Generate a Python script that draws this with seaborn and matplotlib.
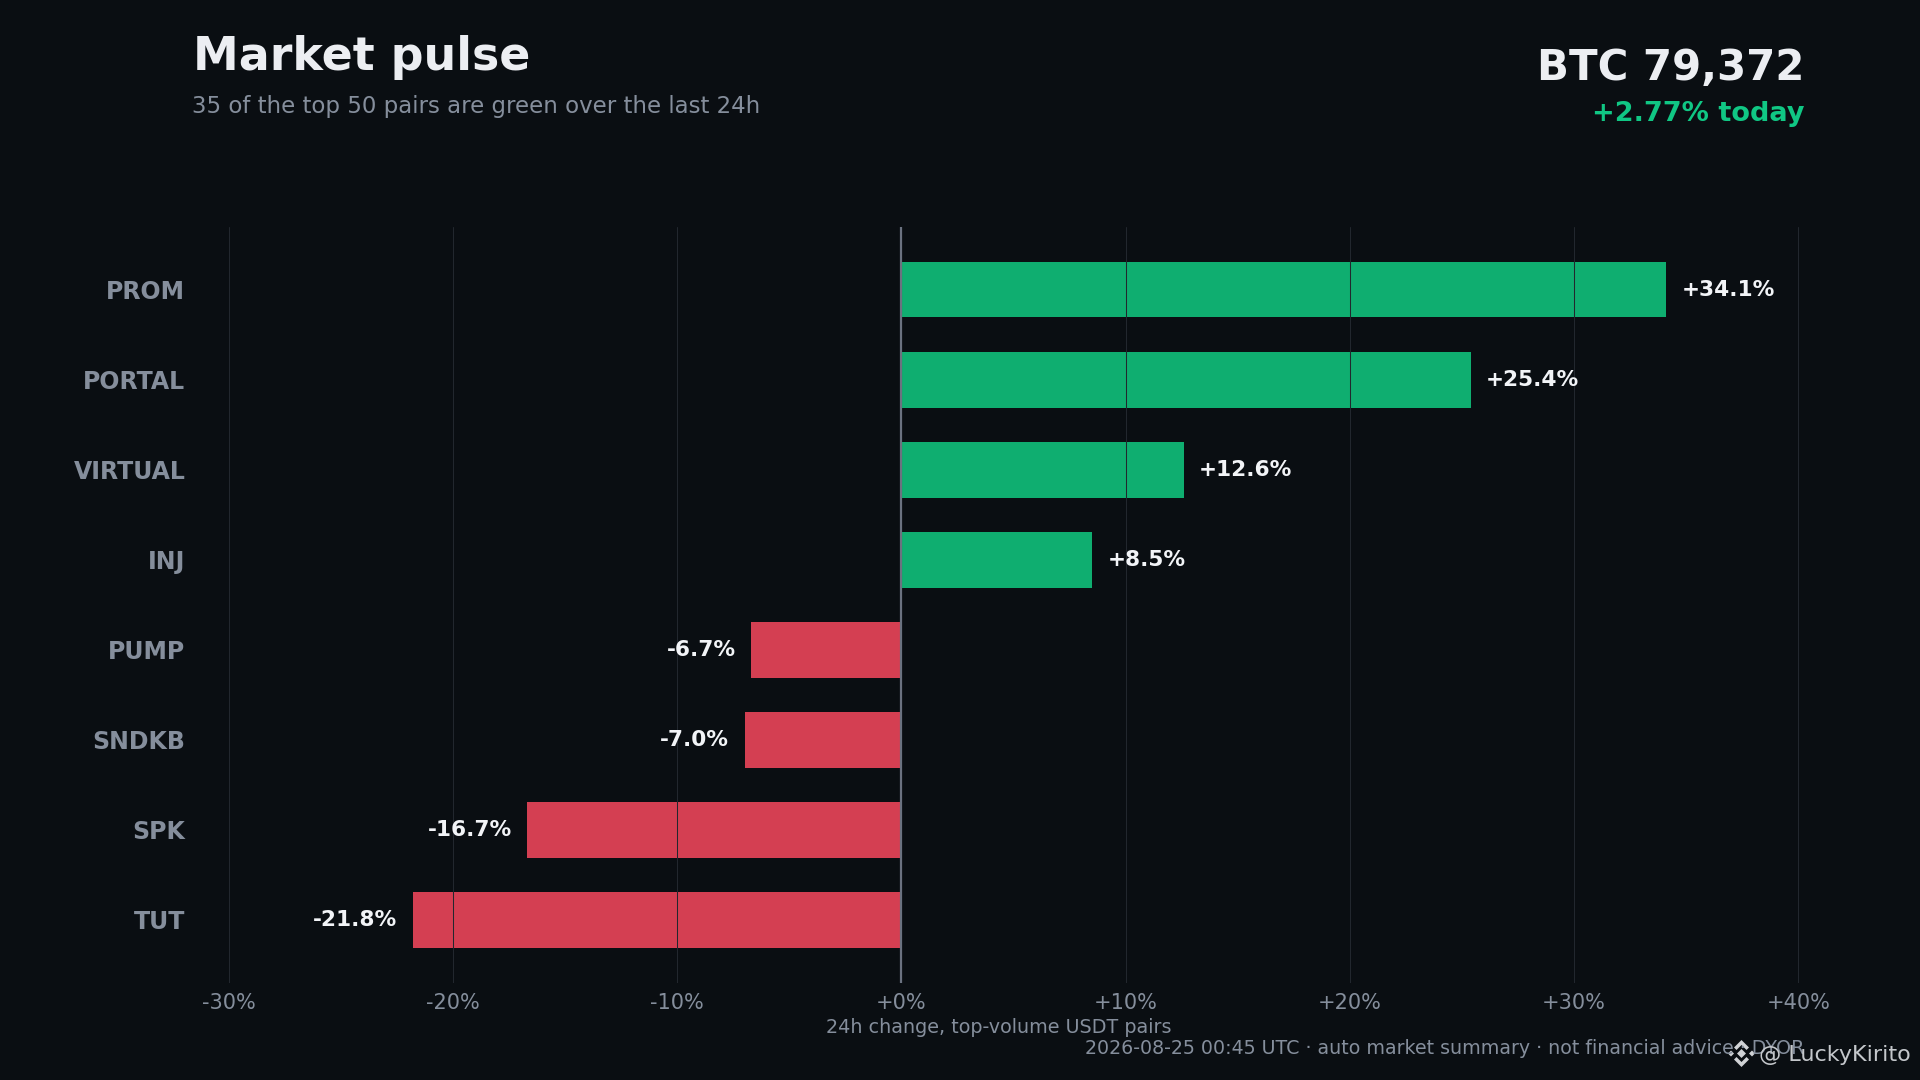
"""Market pulse: 24h change of top-volume USDT pairs as a diverging bar chart."""

import matplotlib

matplotlib.use("Agg")

import matplotlib.pyplot as plt
import pandas as pd
import seaborn as sns
from matplotlib.patches import Polygon
from matplotlib.ticker import FuncFormatter

BG = "#0a0e12"
GREEN = "#0fae70"
RED = "#d43f52"
MUTED = "#858e9c"

PAIRS = ["PROM", "PORTAL", "VIRTUAL", "INJ", "PUMP", "SNDKB", "SPK", "TUT"]
CHANGES = [34.1, 25.4, 12.6, 8.5, -6.7, -7.0, -16.7, -21.8]
X_TICKS = [-30, -20, -10, 0, 10, 20, 30, 40]

sns.set_theme(
    style="dark",
    rc={
        "figure.facecolor": BG,
        "axes.facecolor": BG,
        "savefig.facecolor": BG,
    },
)
plt.rcParams["font.family"] = ["DejaVu Sans"]

df = pd.DataFrame({"pair": PAIRS, "change": CHANGES})
df["side"] = ["up" if c >= 0 else "down" for c in CHANGES]

W, H = 1920, 1080
fig = plt.figure(figsize=(19.2, 10.8), dpi=100)
ax = fig.add_axes([193 / W, 1 - 983 / H, (1805 - 193) / W, (983 - 226.5) / H])

sns.barplot(
    data=df,
    y="pair",
    x="change",
    hue="side",
    palette={"up": GREEN, "down": RED},
    order=PAIRS,
    dodge=False,
    width=0.62,
    legend=False,
    saturation=1,
    linewidth=0,
    edgecolor="none",
    zorder=2,
    ax=ax,
)
for container in ax.containers:
    ax.bar_label(
        container,
        fmt=lambda v: f"{v:+.1f}%",
        padding=11,
        color="#f2f4f7",
        fontsize=15.6,
        fontweight="bold",
    )

ax.set_xlim(-31.6, 40.3)
ax.set_ylim(7.7, -0.7)
ax.set_xticks(X_TICKS)
ax.xaxis.set_major_formatter(FuncFormatter(lambda v, _: f"{v:+.0f}%"))
ax.tick_params(axis="x", length=0, pad=7, labelsize=15, labelcolor=MUTED)
ax.tick_params(axis="y", length=0, pad=5.5, labelsize=17, labelcolor=MUTED)
for label in ax.get_yticklabels():
    label.set_fontweight("bold")
ax.set_ylabel("")
ax.set_xlabel("24h change, top-volume USDT pairs", fontsize=13.75, color=MUTED, labelpad=4)
ax.grid(axis="x", color="#22272e", linewidth=0.75, zorder=3)
ax.grid(axis="y", visible=False)
ax.set_axisbelow(False)
for spine in ax.spines.values():
    spine.set_visible(False)
ax.axvline(0, color="#6b7280", linewidth=1.6, zorder=4)

fig.text(193 / W, 1 - 57 / H, "Market pulse", fontsize=33, fontweight="bold",
         color="#eceef2", ha="left", va="center")
fig.text(192 / W, 1 - 106 / H, "35 of the top 50 pairs are green over the last 24h",
         fontsize=16.5, color=MUTED, ha="left", va="center")
fig.text(1804 / W, 1 - 68 / H, "BTC 79,372", fontsize=30.2, fontweight="bold",
         color="#eceef2", ha="right", va="center")
fig.text(1804 / W, 1 - 114 / H, "+2.77% today", fontsize=19.5, fontweight="bold",
         color="#10c784", ha="right", va="center")
fig.text(1804 / W, 1 - 1048 / H,
         "2026-08-25 00:45 UTC · auto market summary · not financial advice · DYOR",
         fontsize=13.7, color=MUTED, ha="right", va="center")

# watermark: diamond logo next to the handle
fig.text(1911 / W, 1 - 1055 / H, "@ LuckyKirito", fontsize=16, color="#c4c7cb",
         ha="right", va="center")
LOGO_X, LOGO_Y = 1741.5, 1053.5
LOGO_SHAPES = [
    [(0, -4.5), (4.5, 0), (0, 4.5), (-4.5, 0)],
    [(-10.5, -3), (-7.5, 0), (-10.5, 3), (-13.5, 0)],
    [(10.5, -3), (13.5, 0), (10.5, 3), (7.5, 0)],
    [(0, -13.5), (7.5, -6), (5, -3.5), (0, -8.5), (-5, -3.5), (-7.5, -6)],
    [(0, 13.5), (7.5, 6), (5, 3.5), (0, 8.5), (-5, 3.5), (-7.5, 6)],
]
for shape in LOGO_SHAPES:
    pts = [((LOGO_X + dx) / W, 1 - (LOGO_Y + dy) / H) for dx, dy in shape]
    fig.add_artist(Polygon(pts, closed=True, transform=fig.transFigure,
                           facecolor="#d0d2d5", edgecolor="none"))

fig.savefig("out.png", dpi=100)
plt.close(fig)
